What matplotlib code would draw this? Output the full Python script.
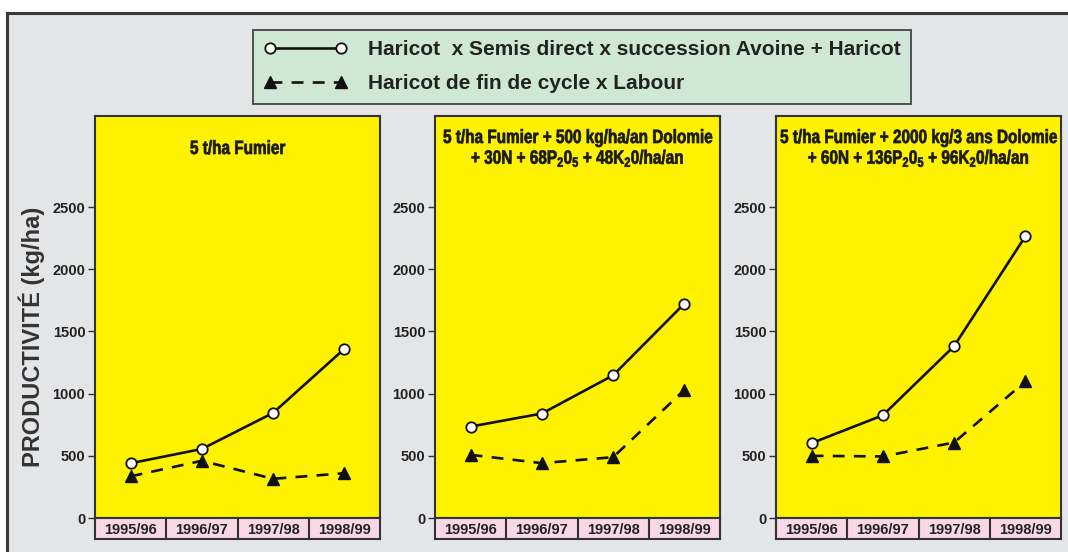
import matplotlib.pyplot as plt
from matplotlib.patches import Rectangle
from matplotlib.lines import Line2D
from matplotlib.patheffects import AbstractPathEffect
from matplotlib.transforms import Affine2D

seasons = ['1995/96', '1996/97', '1997/98', '1998/99']

titles = [
    '5 t/ha Fumier',
    '5 t/ha Fumier + 500 kg/ha/an Dolomie\n+ 30N + 68P$_2$0$_5$ + 48K$_2$0/ha/an',
    '5 t/ha Fumier + 2000 kg/3 ans Dolomie\n+ 60N + 136P$_2$0$_5$ + 96K$_2$0/ha/an',
]

semis_direct = [
    [440, 555, 845, 1360],
    [735, 840, 1147, 1724],
    [602, 826, 1382, 2265],
]
labour = [
    [335, 460, 315, 360],
    [508, 441, 489, 1029],
    [500, 495, 607, 1098],
]

label_semis = 'Haricot  x Semis direct x succession Avoine + Haricot'
label_labour = 'Haricot de fin de cycle x Labour'


class Squeeze(AbstractPathEffect):
    # narrow (and slightly embolden) the glyphs around the centre of each text line
    def __init__(self, s, stroke=0.5):
        super().__init__()
        self.s = s
        self.stroke = stroke

    def draw_path(self, renderer, gc, tpath, affine, rgbFace=None):
        v = tpath.vertices
        c = (v[:, 0].min() + v[:, 0].max()) / 2 if len(v) else 0
        tr = Affine2D().translate(-c, 0).scale(self.s, 1).translate(c, 0) + affine
        gc0 = renderer.new_gc()
        gc0.copy_properties(gc)
        gc0.set_linewidth(self.stroke)
        if rgbFace is not None:
            gc0.set_foreground(rgbFace)
        gc0.set_joinstyle('round')
        renderer.draw_path(gc0, tpath, tr, rgbFace)
        gc0.restore()


W, H = 1068, 552
plt.rcParams['font.family'] = ['Liberation Sans', 'DejaVu Sans']
plt.rcParams['mathtext.fontset'] = 'custom'
plt.rcParams['mathtext.rm'] = 'Liberation Sans:bold'
plt.rcParams['mathtext.it'] = 'Liberation Sans:bold'

fig = plt.figure(figsize=(W / 100, H / 100), dpi=100)
fig.patch.set_facecolor('white')

# gray background with left/top frame
fig.add_artist(Rectangle((7 / W, 0), 1, 1 - 13 / H, transform=fig.transFigure,
                         facecolor='#e4e5e7', edgecolor='none', zorder=0))
fig.add_artist(Line2D([7 / W, 7 / W], [0, 1 - 13 / H], transform=fig.transFigure,
                      color='#3a3a3a', lw=2.2))
fig.add_artist(Line2D([7 / W, 1], [1 - 13 / H, 1 - 13 / H], transform=fig.transFigure,
                      color='#3a3a3a', lw=2.2))

lefts = [95, 435, 776]
title_tops = [141, 130, 130]
pw = 285
top, zero, strip_bot = 116, 518, 539
dark = '#222222'

x = [i + 0.5 for i in range(len(seasons))]
for k in range(3):
    ax = fig.add_axes([lefts[k] / W, 1 - zero / H, pw / W, (zero - top) / H])
    ax.set_facecolor('#fff200')
    ax.set_xlim(0, 4)
    ax.set_ylim(0, 3232)
    l1, = ax.plot(x, semis_direct[k], color='#111111', lw=1.9, marker='o', ms=7.5,
                  mfc='white', mec='#111111', mew=1.3, label=label_semis, zorder=3)
    l2, = ax.plot(x, labour[k], color='#111111', lw=1.9, ls=(0, (4.5, 3.5)), marker='^',
                  ms=8.5, mfc='#111111', mec='#111111', label=label_labour, zorder=3)
    ax.set_xticks([])
    ax.set_yticks([0, 500, 1000, 1500, 2000, 2500])
    ax.tick_params(axis='y', length=5, width=1, color='#333333', pad=2,
                   labelsize=10.5, labelcolor=dark)
    for t in ax.get_yticklabels():
        t.set_fontweight('bold')
    for s in ax.spines.values():
        s.set_linewidth(1.5)
        s.set_color('#333333')
    fig.text((lefts[k] + pw / 2) / W, 1 - title_tops[k] / H, titles[k], ha='center',
             va='top', fontsize=13.8, fontweight='bold', color='#1a1a1a',
             linespacing=1.12, path_effects=[Squeeze(0.8)])

    sx = fig.add_axes([lefts[k] / W, 1 - strip_bot / H, pw / W, (strip_bot - zero) / H])
    sx.set_facecolor('#f8d7e6')
    sx.set_xlim(0, 4)
    sx.set_ylim(0, 1)
    sx.set_xticks([])
    sx.set_yticks([])
    for s in sx.spines.values():
        s.set_linewidth(1.5)
        s.set_color('#333333')
    for i, lab in enumerate(seasons):
        if i > 0:
            sx.axvline(i, color='#333333', lw=1.5)
        sx.text(x[i], 0.45, lab, ha='center', va='center', fontsize=10.5,
                fontweight='bold', color=dark)

fig.text(32 / W, 1 - 337 / H, 'PRODUCTIVITÉ (kg/ha)', rotation=90, ha='center',
         va='center', fontsize=17, fontweight='bold', color='#333333')

leg = fig.legend([l1, l2], [label_semis, label_labour], loc='upper left',
                 bbox_to_anchor=(253 / W, 1 - 30 / H), borderaxespad=0, fancybox=False,
                 facecolor='#cfe8d6', edgecolor='#444444', framealpha=1, numpoints=2,
                 prop={'weight': 'bold', 'size': 15}, handlelength=4,
                 labelspacing=0.72, borderpad=0.5, handletextpad=1.0)
leg.get_frame().set_linewidth(1.3)
for t in leg.get_texts():
    t.set_color('#222222')

fig.savefig('out.png', dpi=100)
